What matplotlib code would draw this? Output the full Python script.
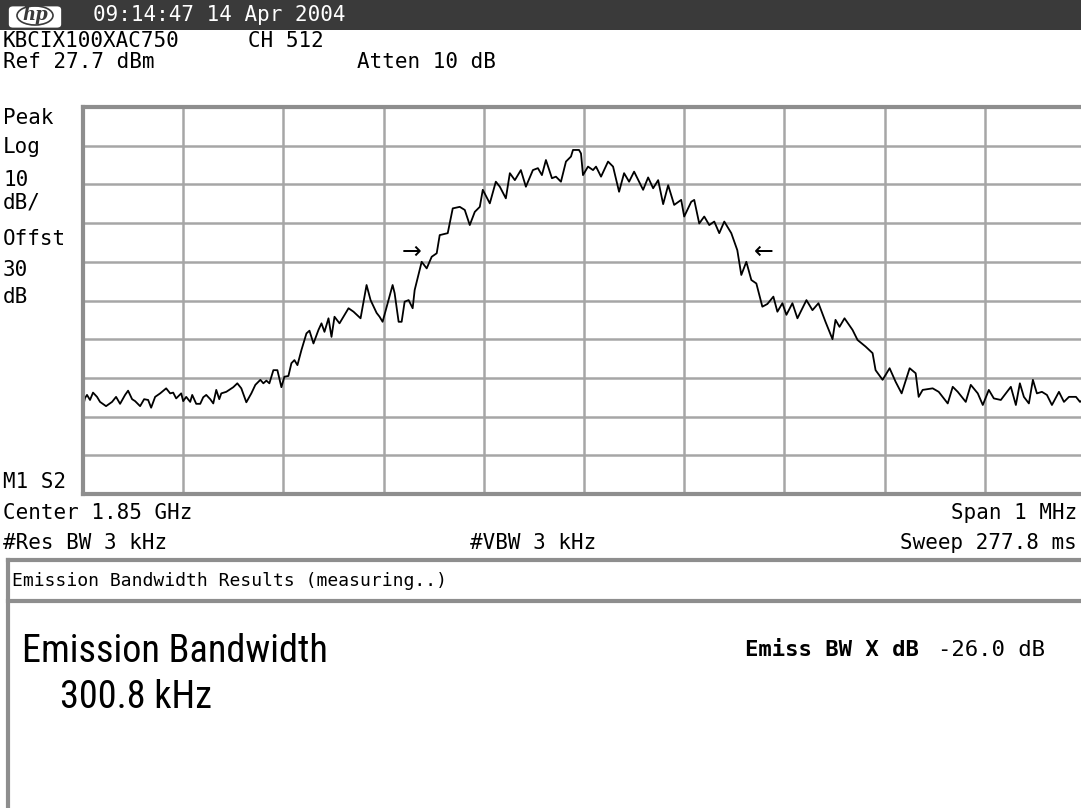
import matplotlib
matplotlib.use('Agg')
import numpy as np
import matplotlib.pyplot as plt
from matplotlib.patches import Rectangle, FancyBboxPatch, Ellipse
from matplotlib.lines import Line2D

W, H = 1081, 808

# ---- data: trace (frequency offset from centre in kHz, level in dBm) ----
freq_khz = [-500, -498, -496, -493, -490, -486, -483, -477, -471, -467, -463, -458, -455, -451,
            -448, -443, -439, -435, -432, -428, -423, -417, -413, -410, -407, -402, -400, -397,
            -393, -391, -387, -383, -380, -377, -373, -370, -367, -364, -362, -357, -350, -346,
            -342, -337, -332, -328, -323, -320, -317, -314, -310, -306, -302, -299, -295, -292,
            -289, -286, -282, -277, -274, -270, -265, -262, -259, -255, -252, -249, -244, -235,
            -230, -223, -217, -213, -207, -204, -201, -196, -191, -189, -185, -182, -179, -175,
            -171, -169, -162, -157, -152, -147, -144, -136, -131, -124, -119, -114, -109, -104,
            -101, -94, -88, -84, -78, -74, -69, -63, -58, -51, -46, -42, -38, -32, -28, -23,
            -18, -13, -11, -5, -3, -1, 4, 9, 12, 17, 24, 29, 35, 40, 45, 50, 55, 59, 64, 69,
            74, 79, 84, 90, 97, 100, 107, 110, 115, 120, 125, 130, 135, 140, 147, 153, 157, 162,
            167, 172, 178, 183, 189, 193, 198, 202, 208, 213, 222, 228, 234, 241, 248, 251, 255,
            260, 268, 273, 281, 288, 291, 298, 305, 311, 317, 325, 331, 334, 338, 348, 354, 363,
            368, 373, 381, 386, 393, 398, 404, 409, 416, 421, 426, 431, 435, 439, 444, 448, 452,
            457, 462, 467, 474, 479, 484, 491, 495, 500]
level_dbm = [-49.7, -47.5, -46.7, -48.0, -46.1, -47.2, -48.5, -49.6, -48.5, -47.2, -49.0, -46.7,
             -45.6, -47.8, -48.3, -49.6, -47.8, -48.0, -50.0, -47.2, -46.3, -45.0, -46.3, -46.1,
             -47.6, -46.3, -48.3, -47.2, -48.5, -46.7, -49.0, -49.0, -47.3, -46.7, -47.8, -48.9,
             -45.4, -47.8, -46.3, -45.9, -44.7, -43.7, -45.0, -48.6, -46.3, -44.1, -42.8, -43.7,
             -43.0, -43.7, -40.3, -40.3, -44.7, -42.0, -41.8, -38.5, -37.7, -39.0, -35.1, -30.8,
             -30.1, -33.4, -29.9, -28.2, -30.4, -26.9, -31.7, -26.5, -28.2, -24.3, -25.2, -26.9,
             -18.3, -22.2, -25.5, -26.5, -27.8, -23.0, -18.3, -20.4, -27.8, -27.8, -22.6, -22.2,
             -24.3, -19.6, -12.3, -14.0, -11.0, -10.1, -5.4, -4.9, 1.5, 1.9, 1.1, -2.8, 0.6, 1.9,
             6.3, 2.8, 8.4, 7.1, 4.1, 10.6, 8.8, 11.4, 7.1, 11.4, 11.9, 10.1, 14.0, 9.3, 9.7, 8.4,
             13.6, 14.9, 16.6, 16.6, 15.7, 10.1, 12.3, 11.4, 12.3, 9.7, 13.6, 12.3, 5.8, 10.6,
             8.4, 11.0, 8.4, 6.3, 9.5, 6.7, 8.8, 2.6, 7.5, 2.4, 3.7, -0.6, 3.2, 3.7, -2.4, -0.6,
             -2.8, -1.9, -4.9, -1.9, -4.9, -9.3, -15.7, -12.3, -17.0, -17.9, -23.9, -23.2, -21.3,
             -25.2, -23.0, -26.0, -23.0, -26.9, -22.2, -24.8, -23.0, -27.8, -32.3, -27.3, -29.1,
             -26.9, -29.9, -32.5, -34.2, -35.9, -40.3, -42.8, -39.8, -43.3, -46.3, -39.8, -41.1,
             -47.2, -45.4, -45.0, -45.9, -48.9, -44.6, -45.9, -48.5, -44.1, -46.3, -49.3, -45.4,
             -47.6, -48.0, -46.3, -44.6, -49.3, -43.7, -47.2, -48.9, -42.8, -46.3, -45.9, -46.7,
             -49.3, -45.9, -48.5, -47.2, -47.2, -48.5, -47.5]

# -26 dB edge markers
marker_freqs_khz = [-172, 179]
marker_level_dbm = -9.8

ref_level = 27.7
db_per_div = 10
span_khz = 1000
n_div = 10

# ---- text ----
timestamp = "09:14:47 14 Apr 2004"
title_line = ["KBCIX100XAC750", "CH 512"]
ref_line = ["Ref 27.7 dBm", "Atten 10 dB"]
left_labels = ["Peak", "Log", "10", "dB/", "Offst", "30", "dB"]
left_label_y = [118, 147, 180, 203, 239, 270, 297]
center_txt, span_txt = "Center 1.85 GHz", "Span 1 MHz"
bw_txts = ["#Res BW 3 kHz", "#VBW 3 kHz", "Sweep 277.8 ms"]
results_header = "Emission Bandwidth Results (measuring..)"
result_name = "Emission Bandwidth"
result_value = "300.8 kHz"
xdb_label, xdb_value = "Emiss BW X dB", "-26.0 dB"

MONO = ['DejaVu Sans Mono']
NARROW = ['Roboto Condensed', 'DejaVu Sans']

fig = plt.figure(figsize=(W / 100, H / 100), dpi=100)
fig.patch.set_facecolor('white')


def P(x, y):
    return x / W, 1 - y / H


def ftext(x, y, s, size=15, family=MONO, **kw):
    fx, fy = P(x, y)
    kw.setdefault('va', 'center')
    fig.text(fx, fy, s, fontsize=size, family=family, color=kw.pop('color', 'black'), **kw)


# top bar
fig.add_artist(Rectangle(P(0, 30), 1, 30 / H, transform=fig.transFigure,
                         facecolor='#3a3a3a', edgecolor='none'))
fig.add_artist(FancyBboxPatch(P(11, 26), 48 / W, 18 / H, transform=fig.transFigure,
                              boxstyle='round,pad=0.002,rounding_size=0.004',
                              facecolor='white', edgecolor='none'))
fig.add_artist(Ellipse(P(35, 15.5), 36 / W, 19 / H, transform=fig.transFigure,
                       facecolor='none', edgecolor='#3a3a3a', lw=1.2))
ftext(35, 15, 'hp', size=13, family=['DejaVu Serif'], ha='center', color='#3a3a3a',
      style='italic', weight='bold')
ftext(93, 15, timestamp, size=15, color='white')

ftext(3, 41, title_line[0])
ftext(248, 41, title_line[1])
ftext(3, 62, ref_line[0])
ftext(357, 62, ref_line[1])
for s, y in zip(left_labels, left_label_y):
    ftext(3, y, s)
ftext(3, 482, "M1 S2")
ftext(3, 513, center_txt)
ftext(1077, 513, span_txt, ha='right')
ftext(3, 543, bw_txts[0])
ftext(470, 543, bw_txts[1])
ftext(1077, 543, bw_txts[2], ha='right')

# ---- graticule / trace ----
left, right, top, bottom = 83, 1085, 107, 494
ax = fig.add_axes([left / W, 1 - bottom / H, (right - left) / W, (bottom - top) / H])
ax.plot(freq_khz, level_dbm, color='black', lw=1.3)
ax.set_xlim(-span_khz / 2, span_khz / 2)
ax.set_ylim(ref_level - n_div * db_per_div, ref_level)
ax.set_xticks(np.linspace(-span_khz / 2, span_khz / 2, n_div + 1))
ax.set_yticks(np.linspace(ref_level - n_div * db_per_div, ref_level, n_div + 1))
ax.grid(True, color='#a6a6a6', lw=1.8)
ax.set_axisbelow(True)
ax.tick_params(length=0, labelbottom=False, labelleft=False)
for sp in ax.spines.values():
    sp.set_color('#8e8e8e')
    sp.set_linewidth(3)
ax.text(marker_freqs_khz[0], marker_level_dbm, '\u2192', ha='center', va='center',
        fontsize=17, family='DejaVu Sans')
ax.text(marker_freqs_khz[1], marker_level_dbm, '\u2190', ha='center', va='center',
        fontsize=17, family='DejaVu Sans')

# ---- results panel ----
gray = '#8e8e8e'
for xs, ys in [((8, 1081), (560, 560)), ((8, 8), (560, 808)), ((8, 1081), (601, 601))]:
    fig.add_artist(Line2D([x / W for x in xs], [1 - y / H for y in ys],
                          transform=fig.transFigure, color=gray, lw=3))
ftext(12, 581, results_header, size=13)
ftext(22, 651, result_name, size=27.5, family=NARROW, stretch='condensed')
ftext(60, 697, result_value, size=27.5, family=NARROW, stretch='condensed')
ftext(745, 650, xdb_label, size=16, weight='bold')
ftext(938, 650, xdb_value, size=16)

fig.savefig('out.png', dpi=100, facecolor='white')
